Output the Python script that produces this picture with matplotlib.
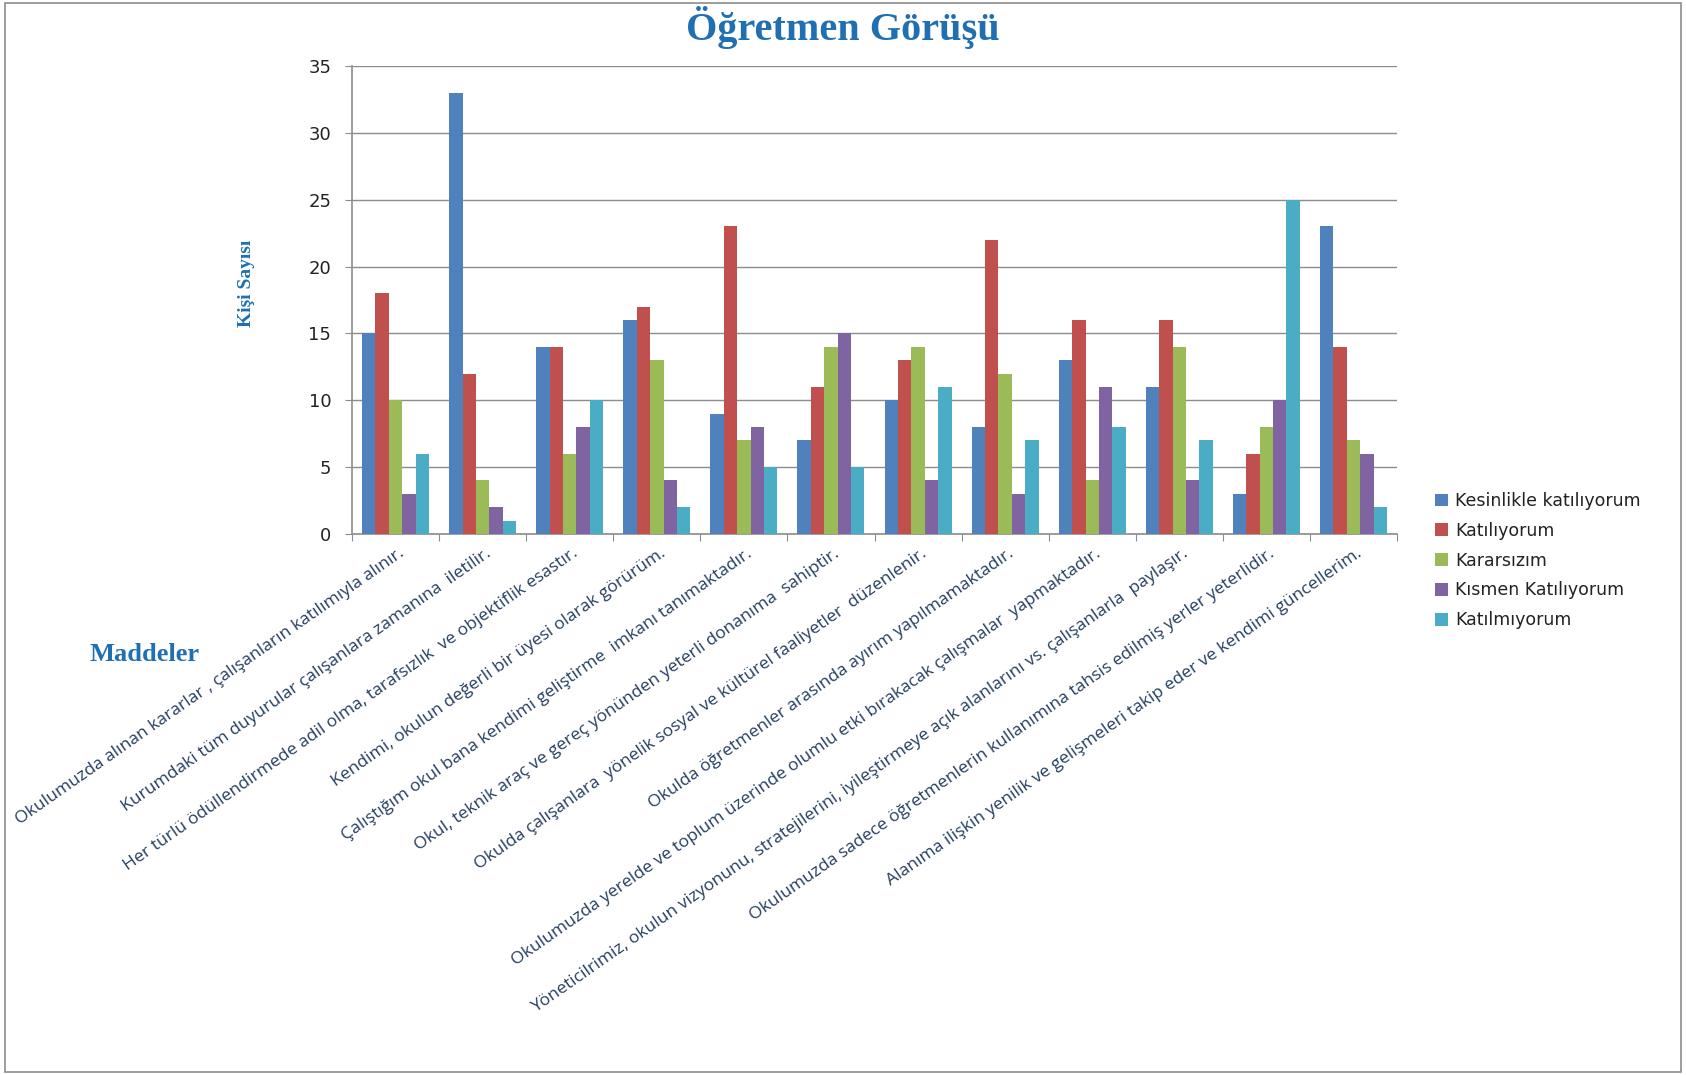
import matplotlib
matplotlib.use("Agg")
import matplotlib.pyplot as plt
import numpy as np
from matplotlib.patches import Rectangle

categories = [
    "Okulumuzda alınan kararlar , çalışanların katılımıyla alınır.",
    "Kurumdaki tüm duyurular çalışanlara zamanına  iletilir.",
    "Her türlü ödüllendirmede adil olma, tarafsızlık  ve objektiflik esastır.",
    "Kendimi, okulun değerli bir üyesi olarak görürüm.",
    "Çalıştığım okul bana kendimi geliştirme  imkanı tanımaktadır.",
    "Okul, teknik araç ve gereç yönünden yeterli donanıma  sahiptir.",
    "Okulda çalışanlara  yönelik sosyal ve kültürel faaliyetler  düzenlenir.",
    "Okulda öğretmenler arasında ayırım yapılmamaktadır.",
    "Okulumuzda yerelde ve toplum üzerinde olumlu etki bırakacak çalışmalar  yapmaktadır.",
    "Yöneticilrimiz, okulun vizyonunu, stratejilerini, iyileştirmeye açık alanlarını vs. çalışanlarla  paylaşır.",
    "Okulumuzda sadece öğretmenlerin kullanımına tahsis edilmiş yerler yeterlidir.",
    "Alanıma ilişkin yenilik ve gelişmeleri takip eder ve kendimi güncellerim.",
]

series_names = ["Kesinlikle katılıyorum", "Katılıyorum", "Kararsızım",
                "Kısmen Katılıyorum", "Katılmıyorum"]

kesinlikle = [15, 33, 14, 16, 9, 7, 10, 8, 13, 11, 3, 23]
katiliyorum = [18, 12, 14, 17, 23, 11, 13, 22, 16, 16, 6, 14]
kararsizim = [10, 4, 6, 13, 7, 14, 14, 12, 4, 14, 8, 7]
kismen = [3, 2, 8, 4, 8, 15, 4, 3, 11, 4, 10, 6]
katilmiyorum = [6, 1, 10, 2, 5, 5, 11, 7, 8, 7, 25, 2]

series_values = [kesinlikle, katiliyorum, kararsizim, kismen, katilmiyorum]
colors = ["#4F81BD", "#C0504D", "#9BBB59", "#8064A2", "#4BACC6"]
yticks = [0, 5, 10, 15, 20, 25, 30, 35]

title_color = "#1F6FB2"
label_color = "#243F60"

fig = plt.figure(figsize=(16.86, 10.75), dpi=100)
ax = fig.add_axes([0.2088, 0.5033, 0.8286 - 0.2088, 0.9386 - 0.5033])

n = len(series_values)
bw = 1 / 6.5
x = np.arange(len(categories))
for i, (vals, c, name) in enumerate(zip(series_values, colors, series_names)):
    ax.bar(x + (i - (n - 1) / 2) * bw, vals, width=bw, color=c, label=name,
           zorder=3)

ax.set_xlim(-0.5, len(categories) - 0.5)
ax.set_ylim(0, 35)
ax.set_yticks(yticks)
ax.set_yticklabels([str(t) for t in yticks], fontsize=13, color="#222222",
                   family="DejaVu Sans")
ax.yaxis.grid(True, color="#8C8C8C", linewidth=1, zorder=0)
ax.set_axisbelow(True)
for s in ["top", "right"]:
    ax.spines[s].set_visible(False)
for s in ["left", "bottom"]:
    ax.spines[s].set_color("#8C8C8C")
    ax.spines[s].set_linewidth(1.2)
ax.tick_params(axis="y", length=5, color="#8C8C8C", pad=10)

# category boundary ticks
ax.set_xticks(np.arange(-0.5, len(categories) + 0.5, 1))
ax.set_xticklabels([])
ax.tick_params(axis="x", length=5, color="#8C8C8C")

# rotated category labels
for xi, lab in zip(x, categories):
    ax.annotate(lab, xy=(xi, 0), xycoords=("data", "axes fraction"),
                xytext=(5, -13), textcoords="offset points",
                rotation=35, rotation_mode="anchor", ha="right", va="center",
                fontsize=12.6, color=label_color, family="Open Sans")

leg = fig.legend(loc="upper left", bbox_to_anchor=(0.8511, 0.5423),
                 frameon=False,
                 prop={"family": "DejaVu Sans", "size": 12.5},
                 handlelength=0.75, handleheight=0.75, handletextpad=0.4,
                 labelspacing=0.68, borderaxespad=0, borderpad=0)
for t in leg.get_texts():
    t.set_color("#222222")

fig.text(0.5, 0.974, "Öğretmen Görüşü", ha="center", va="center",
         fontsize=29, fontweight="bold", family="Liberation Serif",
         color=title_color)
fig.text(0.146, 0.736, "Kişi Sayısı", ha="center", va="center", rotation=90,
         fontsize=14, fontweight="bold", family="Liberation Serif",
         color=title_color)
fig.text(0.0528, 0.3916, "Maddeler", ha="left", va="center",
         fontsize=19, fontweight="bold", family="Liberation Serif",
         color=title_color)

fig.patches.append(Rectangle((0.003, 0.003), 0.994, 0.994,
                             transform=fig.transFigure, fill=False,
                             edgecolor="#8C8C8C", linewidth=1.2))

fig.savefig("out.png", dpi=100)
